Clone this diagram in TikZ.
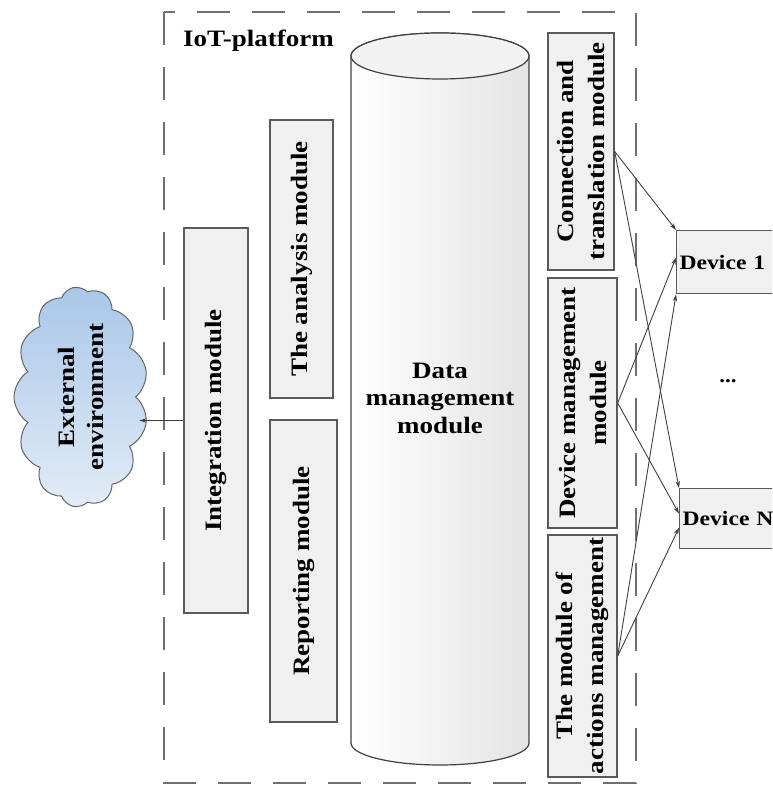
\documentclass[tikz,border=0pt]{standalone}
\usepackage{fontspec}
\newfontfamily\lbl[FakeStretch=1.15]{Liberation Serif}
\usetikzlibrary{shapes.symbols,arrows.meta}
\definecolor{boxline}{HTML}{5A5A5A}
\definecolor{boxfill}{HTML}{F0F0F0}
\definecolor{framecol}{HTML}{707070}
\definecolor{arrowcol}{HTML}{404040}
\definecolor{cloudA}{HTML}{A9C7E8}
\definecolor{cloudB}{HTML}{80ABDA}
\definecolor{cloudC}{HTML}{E2ECF7}
\definecolor{cylA}{HTML}{FFFFFF}
\definecolor{cylB}{HTML}{E4E4E4}
\begin{document}
\begin{tikzpicture}[x=1pt,y=1pt,
  bigtxt/.style={font=\lbl\bfseries\fontsize{23.5}{31}\selectfont},
  modbox/.style={draw=boxline, line width=1.4pt, rotate=90, fill=boxfill,
    inner sep=2pt, align=center, bigtxt},
  devbox/.style={draw=boxline, line width=1.4pt, fill=boxfill, anchor=north west,
    minimum width=140pt, text width=134pt, inner xsep=3pt, align=left,
    font=\lbl\bfseries\fontsize{20.5}{25}\selectfont},
  conn/.style={draw=arrowcol, line width=0.9pt, -{Stealth[length=7pt,width=4.5pt]}},
]
\useasboundingbox (0,0) rectangle (772,785);
\clip (0,0) rectangle (772,785);
\fill[white] (0,0) rectangle (772,785);

% platform frame
\draw[framecol, line width=2pt, dash pattern=on 33pt off 22pt] (164,773) rectangle (636,2);
\node[anchor=west, inner sep=0pt, bigtxt] (iot) at (183,744) {IoT-platform};

% data management cylinder
\path[draw=black!75, line width=1.2pt, left color=cylA, right color=cylB]
  (351,729) -- (351,42) arc[start angle=180, end angle=360, x radius=89, y radius=22]
  -- (529,729) arc[start angle=0, end angle=180, x radius=89, y radius=23] -- cycle;
\draw[black!75, line width=1.2pt, fill=white!95!black] (440,729) ellipse[x radius=89, y radius=23];
\node[align=center, font=\lbl\bfseries\fontsize{23.5}{27.5}\selectfont] (dmt) at (440,387) {Data\\management\\module};

% modules
\node[modbox, minimum width=385pt, minimum height=64pt] (int) at (216,364.5) {Integration module};
\node[modbox, minimum width=278pt, minimum height=63pt] (ana) at (301.5,526) {The analysis module};
\node[modbox, minimum width=302pt, minimum height=67pt] (rep) at (303.5,214) {Reporting module};
\node[modbox, minimum width=237pt, minimum height=66pt] (con) at (581,633.5) {Connection and\\translation module};
\node[modbox, minimum width=250pt, minimum height=69pt] (dev) at (582.5,382) {Device management\\module};
\node[modbox, minimum width=242pt, minimum height=69pt] (act) at (582.5,129) {The module of\\actions management};

% devices
\node[devbox, minimum height=63pt] (d1) at (676,555) {Device 1};
\node[devbox, minimum height=60pt] (dn) at (679,297) {Device N};
\node[font=\lbl\bfseries\fontsize{20}{20}\selectfont] (dots) at (728,404) {...};

% external environment cloud
\node[cloud, cloud puffs=13, cloud puff arc=115, cloud ignores aspect, rotate=90,
  minimum width=172pt, minimum height=134pt, draw=black!60, line width=1pt,
  top color=cloudA, middle color=cloudB, bottom color=cloudC,
  align=center, font=\lbl\bfseries\fontsize{23.5}{29}\selectfont] (env) at (81,388) {External\\environment};

% connectors
\draw[conn] (int.north) -- ([xshift=3pt]int.north -| env.south);
\draw[conn] (con.south) -- (d1.north west);
\draw[conn] (con.south) -- (dn.north west);
\draw[conn] (dev.south) -- ([yshift=4.5pt]d1.west);
\draw[conn] (dev.south) -- ([yshift=5pt]dn.west);
\draw[conn] (act.south) -- (d1.south west);
\draw[conn] (act.south) -- ([yshift=-9pt]dn.west);
\end{tikzpicture}
\end{document}
